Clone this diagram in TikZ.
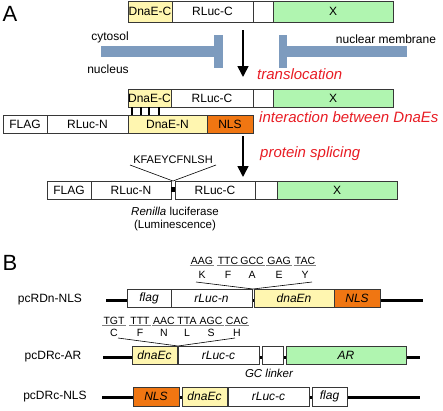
\documentclass[tikz,border=0pt]{standalone}
\usepackage{fontspec}
\setmainfont{Liberation Sans}
\usetikzlibrary{arrows.meta,calc}
\definecolor{yel}{RGB}{255,246,176}
\definecolor{grn}{RGB}{176,245,176}
\definecolor{org}{RGB}{240,118,18}
\definecolor{barblue}{RGB}{125,155,190}
\definecolor{redtxt}{RGB}{232,28,36}
\definecolor{bord}{RGB}{55,55,55}
\newcommand\bx[7]{\node[bx,fill=#6,minimum width=#4pt,minimum height=#5pt,anchor=north west] (#1) at (#2,#3) {#7};}
\tikzset{
  bx/.style={draw=bord,line width=0.9pt,inner sep=0pt,outer sep=0pt,font=\fontsize{12}{14}\selectfont},
  lab/.style={inner sep=0pt,font=\fontsize{12}{14}\selectfont},
  redlab/.style={inner sep=0pt,text=redtxt,font=\fontsize{15}{17}\selectfont\itshape},
  bigarrow/.style={line width=1.6pt,-{Triangle[width=11pt,length=11pt]}},
  thinline/.style={line width=0.6pt,black},
  tickline/.style={line width=1.4pt,black},
  backbone/.style={line width=3pt,black},
  cod/.style={inner sep=1pt,font=\fontsize{10.5}{12}\selectfont},
  ul/.style={line width=0.9pt,gray},
  panel/.style={inner sep=0pt,font=\fontsize{22}{24}\selectfont}
}
\begin{document}
\begin{tikzpicture}[x=1pt,y=-1pt]
\useasboundingbox (0,0) rectangle (443,410);
% ---------- Panel A ----------
\node[panel] (pA) at (10,14) {A};
\bx{ac1}{128}{1}{44}{21}{yel}{DnaE-C}
\bx{ar1}{172}{1}{81}{21}{white}{RLuc-C}
\bx{ab1}{253}{1}{20}{21}{white}{}
\bx{ax1}{273}{1}{120}{21}{grn}{X}
% membrane bars
\fill[barblue] (101,46) rectangle (218,57);
\fill[barblue] (214,35) rectangle (223,68);
\fill[barblue] (279,35) rectangle (287,68);
\fill[barblue] (279,46) rectangle (407,57);
\node[lab] (cyt) at (110,37) {cytosol};
\node[lab] (nuc) at (108,69) {nucleus};
\node[lab] (nm) at (386,39) {nuclear membrane};
\coordinate (a1s) at (243,30);
\coordinate (a1e) at (243,77);
\draw[bigarrow] (a1s) -- (a1e);
\node[redlab,anchor=west] (trl) at (257,74) {translocation};
% interaction
\bx{ac2}{128}{89}{43}{18}{yel}{DnaE-C}
\bx{ar2}{171}{89}{82}{18}{white}{RLuc-C}
\bx{ab2}{253}{89}{20}{18}{white}{}
\bx{ax2}{273}{89}{120}{18}{grn}{X}
\bx{fl2}{3}{115}{44}{18}{white}{FLAG}
\bx{rn2}{47}{115}{81}{18}{white}{RLuc-N}
\bx{dn2}{128}{115}{79}{18}{yel}{DnaE-N}
\bx{nl2}{207}{115}{46}{18}{org}{NLS}
\foreach \s in {4,13,21,31}
  \draw[tickline] ([xshift=\s pt]ac2.south west) -- ([xshift=\s pt]ac2.south west |- dn2.north);
\node[redlab,anchor=west] (intr) at (259,117) {interaction between DnaEs};
\coordinate (a2s) at (243,136);
\coordinate (a2e) at (243,177);
\draw[bigarrow] (a2s) -- (a2e);
\node[redlab,anchor=west] (spl) at (260,154) {protein splicing};
% spliced product
\bx{fl3}{47}{181}{44}{18}{white}{FLAG}
\bx{rn3}{91}{181}{80}{18}{white}{RLuc-N}
\bx{rc3}{175}{181}{80}{18}{white}{RLuc-C}
\bx{bl3}{255}{181}{22}{18}{white}{}
\bx{x3}{277}{181}{120}{18}{grn}{X}
\fill[black] (171,187) rectangle (175,192);
\coordinate (j3) at (173,181);
\node[cod,font=\fontsize{11}{13}\selectfont] (kf) at (173,160) {KFAEYCFNLSH};
\coordinate (kfl) at (130,165);
\coordinate (kfr) at (216,165);
\draw[thinline] (kfl) -- (j3) -- (kfr);
\node[lab,align=center,font=\fontsize{11.5}{13}\selectfont] (ren) at (175,219) {\textit{Renilla} luciferase\\(Luminescence)};
% ---------- Panel B ----------
\node[panel] (pB) at (10,263) {B};
% row 1
\node[lab] (l1) at (50,300) {pcRDn-NLS};
\coordinate (bb1s) at (106,300);
\coordinate (bb1e) at (423,300);
\draw[backbone] (bb1s) -- (bb1e);
\bx{fg1}{127}{289}{44}{18}{white}{\itshape flag}
\bx{rl1}{171}{289}{81}{18}{white}{\itshape rLuc-n}
\bx{de1}{254}{289}{80}{18}{yel}{\itshape dnaEn}
\bx{ns1}{334}{289}{46}{18}{org}{\itshape NLS}
\foreach \c/\a/\x [count=\i] in {AAG/K/202,TTC/F/228,GCC/A/252,GAG/E/279,TAC/Y/305}{
  \node[cod] (cA\i) at (\x,261) {\c};
  \draw[ul] (cA\i.south west) -- (cA\i.south east);
  \node[cod] (aA\i) at (\x,274.5) {\a};
}
\coordinate (j1) at (253,289);
\coordinate (q1l) at (196,282);
\coordinate (q1r) at (312,282);
\draw[thinline] (q1l) -- (j1) -- (q1r);
% row 2
\foreach \c/\a/\x [count=\i] in {TGT/C/114,TTT/F/140,AAC/N/164,TTA/L/187,AGC/S/211,CAC/H/237}{
  \node[cod] (cB\i) at (\x,321) {\c};
  \draw[ul] (cB\i.south west) -- (cB\i.south east);
  \node[cod] (aB\i) at (\x,333) {\a};
}
\coordinate (j2) at (178,346);
\coordinate (q2l) at (118,338);
\coordinate (q2r) at (235,338);
\draw[thinline] (q2l) -- (j2) -- (q2r);
\node[lab] (l2) at (53,357) {pcDRc-AR};
\coordinate (bb2s) at (103,357);
\coordinate (bb2e) at (420,357);
\draw[backbone] (bb2s) -- (bb2e);
\bx{de2}{132}{346}{45}{18}{yel}{\itshape dnaEc}
\bx{rl2}{178}{346}{81}{18}{white}{\itshape rLuc-c}
\bx{bl2}{262}{346}{21}{18}{white}{}
\bx{ar2b}{286}{346}{120}{18}{grn}{\itshape AR}
\node[lab,font=\fontsize{11.5}{13}\selectfont\itshape] (gc) at (269,373) {GC linker};
% row 3
\node[lab] (l3) at (55,397) {pcDRc-NLS};
\coordinate (bb3s) at (102,397);
\coordinate (bb3e) at (420,397);
\draw[backbone] (bb3s) -- (bb3e);
\bx{ns3}{133}{387}{46}{19}{org}{\itshape NLS}
\bx{de3}{182}{387}{45}{19}{yel}{\itshape dnaEc}
\bx{rl3}{228}{387}{81}{19}{white}{\itshape rLuc-c}
\bx{fg3}{312}{387}{35}{19}{white}{\itshape flag}
\end{tikzpicture}
\end{document}
